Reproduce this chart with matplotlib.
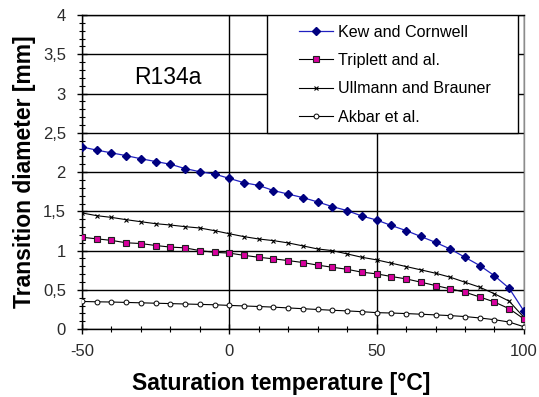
import matplotlib
matplotlib.use('Agg')
import matplotlib.pyplot as plt
from matplotlib.patches import Rectangle
from matplotlib.ticker import MultipleLocator, FuncFormatter

plt.rcParams['font.family'] = ['Liberation Sans', 'DejaVu Sans']
plt.rcParams['axes.unicode_minus'] = False

# Température de saturation (pas de 5 °C)
temperature = list(range(-50, 101, 5))

# Diamètre de transition [mm] selon chaque corrélation
kew_cornwell = [2.32, 2.28, 2.245, 2.21, 2.17, 2.135, 2.10, 2.045, 2.005, 1.975,
                1.92, 1.865, 1.83, 1.765, 1.72, 1.675, 1.62, 1.56, 1.51, 1.44,
                1.39, 1.32, 1.255, 1.18, 1.105, 1.02, 0.915, 0.81, 0.68, 0.52,
                0.23]
triplett = [1.17, 1.15, 1.13, 1.10, 1.09, 1.065, 1.045, 1.035, 1.0, 0.978,
            0.968, 0.94, 0.915, 0.895, 0.873, 0.848, 0.815, 0.788, 0.762, 0.725,
            0.704, 0.67, 0.64, 0.598, 0.555, 0.513, 0.47, 0.41, 0.345, 0.26,
            0.13]
ullmann_brauner = [1.48, 1.445, 1.423, 1.394, 1.368, 1.343, 1.326, 1.305, 1.288, 1.254,
                   1.215, 1.178, 1.148, 1.127, 1.098, 1.06, 1.021, 1.0, 0.958, 0.915,
                   0.882, 0.84, 0.797, 0.755, 0.712, 0.661, 0.597, 0.534, 0.45, 0.356,
                   0.15]
akbar = [0.352, 0.348, 0.345, 0.34, 0.335, 0.33, 0.325, 0.32, 0.315, 0.31,
         0.302, 0.295, 0.288, 0.28, 0.27, 0.26, 0.25, 0.24, 0.232, 0.222,
         0.21, 0.205, 0.198, 0.19, 0.181, 0.172, 0.16, 0.142, 0.12, 0.09,
         0.03]

fig = plt.figure(figsize=(5.39, 3.97), dpi=100)
ax = fig.add_axes([0.152, 0.171, 0.82, 0.791])

ax.plot(temperature, kew_cornwell, color='#2020c0', lw=0.9, marker='D', ms=4.5,
        mfc='#000080', mec='#000080', label='Kew and Cornwell', zorder=5)
ax.plot(temperature, triplett, color='black', lw=0.8, marker='s', ms=5,
        mfc='#d8009e', mec='#202020', mew=0.8, label='Triplett and al.', zorder=4)
ax.plot(temperature, ullmann_brauner, color='black', lw=0.8, marker='x', ms=3.5,
        mew=0.8, label='Ullmann and Brauner', zorder=3)
ax.plot(temperature, akbar, color='black', lw=0.8, marker='o', ms=3.5,
        mfc='white', mec='black', mew=0.7, label='Akbar et al.', zorder=3)

ax.set_xlim(-50, 100)
ax.set_ylim(0, 4)

# Graduations
ax.xaxis.set_major_locator(MultipleLocator(50))
ax.xaxis.set_minor_locator(MultipleLocator(10))
ax.yaxis.set_major_locator(MultipleLocator(0.5))
ax.yaxis.set_minor_locator(MultipleLocator(0.1))
ax.yaxis.set_major_formatter(FuncFormatter(lambda v, p: ('%g' % v).replace('.', ',')))
ax.tick_params(which='major', direction='inout', length=7, width=1, labelsize=12,
               labelcolor='#2b2b2b')
ax.tick_params(axis='y', which='major', pad=8)
ax.tick_params(axis='x', which='major', pad=7)
ax.tick_params(which='minor', direction='inout', length=5, width=0.8)

ax.grid(True, which='major', color='black', lw=1.0)
ax.set_axisbelow(True)
for s in ['left', 'bottom', 'top']:
    ax.spines[s].set_color('black')
    ax.spines[s].set_linewidth(1.0)
ax.spines['right'].set_color('#8c8c8c')
ax.spines['right'].set_linewidth(1.0)

ax.set_xlabel('Saturation temperature [°C]', fontsize=16.5, fontweight='bold')
ax.xaxis.set_label_coords(0.45, -0.135)
ax.set_ylabel('Transition diameter [mm]', fontsize=16.5, fontweight='bold', labelpad=5)

ax.text(-21, 3.21, 'R134a', fontsize=16.5, ha='center', va='center')

# Cadre blanc de la légende
ax.add_patch(Rectangle((12.8, 2.5), 85.3, 1.5, facecolor='white', edgecolor='black',
                       lw=1.0, zorder=6))
leg = ax.legend(loc='upper left', bbox_to_anchor=(0.477, 0.99), frameon=False,
                fontsize=11.6, handlelength=2.1, handletextpad=0.3, labelspacing=0.83,
                borderaxespad=0)
leg.set_zorder(7)

plt.savefig('out.png', dpi=100)
